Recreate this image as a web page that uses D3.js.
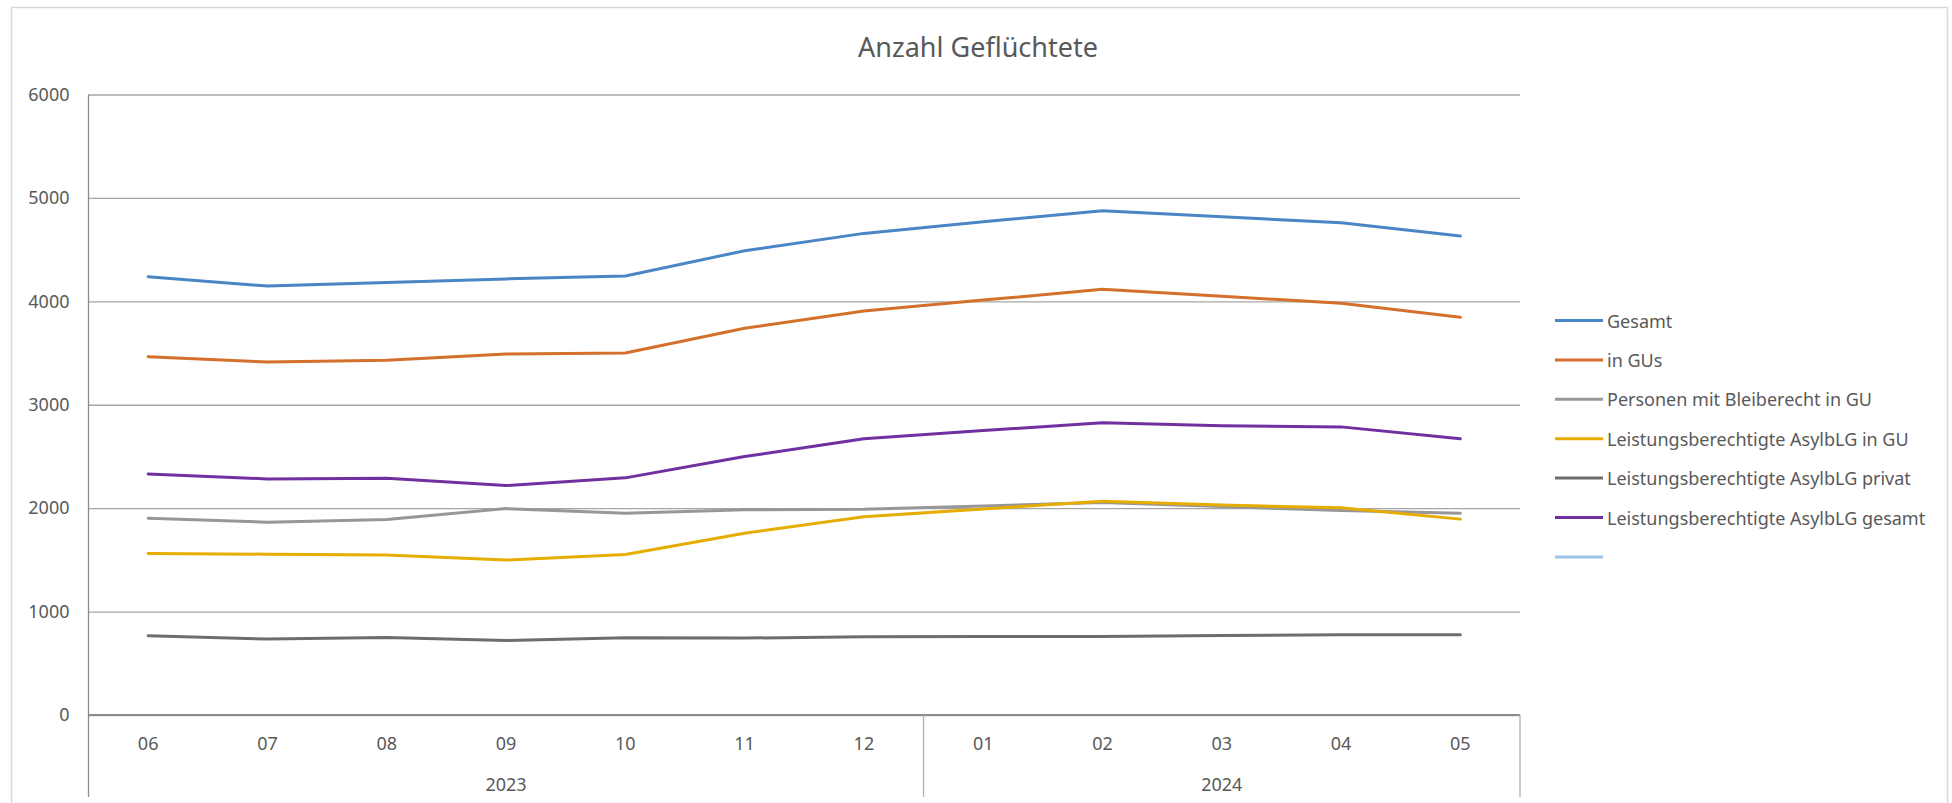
<!DOCTYPE html>
<html>
<head>
<meta charset="utf-8">
<script src="https://cdn.jsdelivr.net/npm/d3@7"></script>
<style>
  body { margin: 0; background: #fff; }
  svg { display: block; font-family: "Noto Sans", "Open Sans", sans-serif; }
</style>
</head>
<body>
<svg width="1952" height="803"></svg>
<script>
// data
let months = ["06", "07", "08", "09", "10", "11", "12", "01", "02", "03", "04", "05"]
let years = ["2023", "2024"]
let yearSpans = [7, 5]
let yTicks = [0, 1000, 2000, 3000, 4000, 5000, 6000]

let gesamt      = [4238, 4148, 4181, 4217, 4245, 4489, 4657, 4770, 4875, 4817, 4759, 4631]
let inGUs       = [3465, 3413, 3430, 3491, 3500, 3739, 3906, 4012, 4116, 4050, 3981, 3845]
let bleiberecht = [1903, 1865, 1890, 1996, 1952, 1984, 1990, 2022, 2054, 2015, 1977, 1952]
let asylGU      = [1561, 1555, 1546, 1498, 1552, 1758, 1916, 1993, 2067, 2030, 2003, 1894]
let asylPrivat  = [766, 734, 750, 721, 747, 744, 756, 760, 759, 768, 776, 776]
let asylGesamt  = [2331, 2283, 2290, 2219, 2293, 2499, 2672, 2750, 2827, 2798, 2786, 2672]

let seriesNames = [
  "Gesamt",
  "in GUs",
  "Personen mit Bleiberecht in GU",
  "Leistungsberechtigte AsylbLG in GU",
  "Leistungsberechtigte AsylbLG privat",
  "Leistungsberechtigte AsylbLG gesamt",
  ""
]
let seriesValues = [gesamt, inGUs, bleiberecht, asylGU, asylPrivat, asylGesamt, []]
let colors = ["#4a86c5", "#d4702c", "#979797", "#e6ac00", "#6f6c6c", "#7030a0", "#9dc3e6"]

var svg = d3.select("svg")
let textColor = "#595959"

// outer chart border
svg.append("rect")
  .attr("x", 11.5).attr("y", 7.5)
  .attr("width", 1936).attr("height", 820)
  .attr("fill", "none")
  .attr("stroke", "#d9d9d9")
  .attr("stroke-width", 1.5)

let plotLeft = 88.5, plotRight = 1520, plotTop = 94.5, plotBottom = 715

let x = d3.scaleBand().domain(months).range([plotLeft, plotRight]).padding(0)
let y = d3.scaleLinear().domain([0, 6000]).range([plotBottom, plotTop])

// title
svg.append("text")
  .attr("x", 978).attr("y", 46)
  .attr("text-anchor", "middle")
  .attr("dominant-baseline", "central")
  .attr("font-size", 27)
  .attr("fill", textColor)
  .text("Anzahl Geflüchtete")

// gridlines + y labels
let yAxis = svg.append("g")
  .attr("transform", `translate(${plotLeft},0)`)
  .call(d3.axisLeft(y).tickValues(yTicks).tickSize(-(plotRight - plotLeft)).tickPadding(19).tickFormat(d3.format("d")))
yAxis.select(".domain").remove()
yAxis.selectAll(".tick line").attr("stroke", "#a6a6a6").attr("stroke-width", 1.3)
yAxis.selectAll(".tick text")
  .attr("font-size", 18)
  .attr("fill", textColor)
  .attr("font-family", "Noto Sans, sans-serif")

// left vertical line of the plot
svg.append("line")
  .attr("x1", plotLeft).attr("x2", plotLeft)
  .attr("y1", plotTop).attr("y2", 797)
  .attr("stroke", "#8c8c8c").attr("stroke-width", 1.3)

// category axis
svg.append("line")
  .attr("x1", plotLeft).attr("x2", plotRight)
  .attr("y1", plotBottom).attr("y2", plotBottom)
  .attr("stroke", "#8c8c8c").attr("stroke-width", 2)

svg.append("g")
  .selectAll("text")
  .data(months)
  .enter()
  .append("text")
  .attr("x", (d) => x(d) + x.bandwidth() / 2)
  .attr("y", 743)
  .attr("text-anchor", "middle")
  .attr("dominant-baseline", "central")
  .attr("font-size", 18)
  .attr("fill", textColor)
  .text((d) => d)

// year groups
let start = 0
let yearGroups = years.map((yr, i) => {
  let g = { year: yr, from: start, to: start + yearSpans[i] }
  start += yearSpans[i]
  return g
})

svg.append("g")
  .selectAll("line")
  .data(yearGroups)
  .enter()
  .append("line")
  .attr("x1", (d) => x(months[d.to - 1]) + x.bandwidth())
  .attr("x2", (d) => x(months[d.to - 1]) + x.bandwidth())
  .attr("y1", plotBottom).attr("y2", 797)
  .attr("stroke", "#b0b0b0").attr("stroke-width", 1.3)

svg.append("g")
  .selectAll("text")
  .data(yearGroups)
  .enter()
  .append("text")
  .attr("x", (d) => (x(months[d.from]) + x(months[d.to - 1]) + x.bandwidth()) / 2)
  .attr("y", 784)
  .attr("text-anchor", "middle")
  .attr("dominant-baseline", "central")
  .attr("font-size", 18)
  .attr("fill", textColor)
  .text((d) => d.year)

// lines
let line = d3.line()
  .x((d, i) => x(months[i]) + x.bandwidth() / 2)
  .y((d) => y(d))

svg.append("g")
  .selectAll("path")
  .data(seriesValues.filter((v) => v.length > 0))
  .enter()
  .append("path")
  .attr("d", line)
  .attr("fill", "none")
  .attr("stroke", (d, i) => colors[i])
  .attr("stroke-width", 3)
  .attr("stroke-linejoin", "round")
  .attr("stroke-linecap", "round")

// legend
let legend = svg.append("g")
  .selectAll("g")
  .data(seriesNames)
  .enter()
  .append("g")
  .attr("transform", (d, i) => `translate(1555,${320.5 + i * 39.4})`)

legend.append("line")
  .attr("x1", 0).attr("x2", 48)
  .attr("stroke", (d, i) => colors[i])
  .attr("stroke-width", 3)

legend.append("text")
  .attr("x", 52)
  .attr("dominant-baseline", "central")
  .attr("font-size", 18)
  .attr("fill", textColor)
  .text((d) => d)
</script>
</body>
</html>
